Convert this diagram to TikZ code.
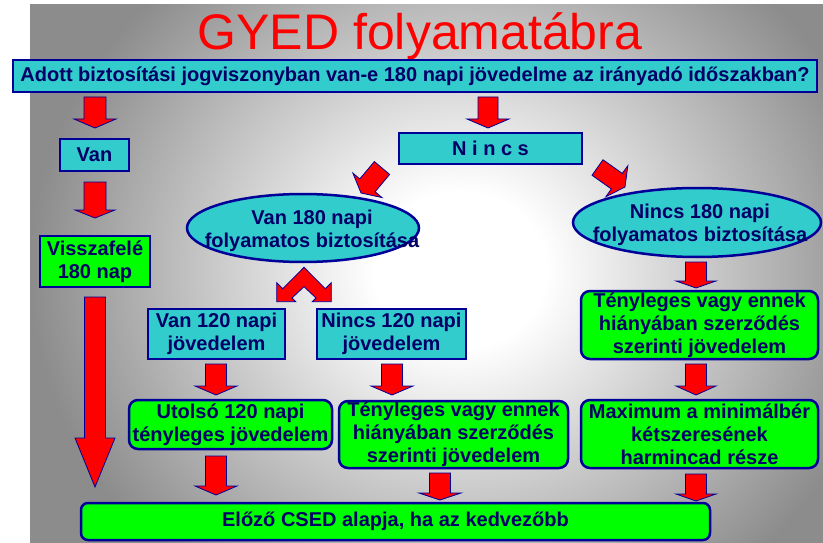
\documentclass[tikz,border=0pt]{standalone}
\usepackage{fontspec}
\setmainfont{Liberation Sans}
\usetikzlibrary{calc,shapes.geometric}
\definecolor{cy}{HTML}{33CCCC}
\definecolor{grn}{HTML}{00FF00}
\definecolor{nv}{HTML}{000099}
\definecolor{tx}{HTML}{000066}
\definecolor{bgdark}{HTML}{8C8C8C}
\pgfdeclareradialshading{bgrad}{\pgfpoint{0bp}{0bp}}{color(0bp)=(white); color(5bp)=(white); color(25bp)=(bgdark); color(50bp)=(bgdark)}
% #1 start, #2 tip, #3 half shaft, #4 half head, #5 head length
\newcommand{\blockarr}[5]{%
  \coordinate (#1-b) at ($(#2)!#5!(#1)$);
  \filldraw[arr] ($(#1)!#3!90:(#2)$) -- ($(#1-b)!#3!90:(#2)$) -- ($(#1-b)!#4!90:(#2)$) -- (#2)
     -- ($(#1-b)!#4!-90:(#2)$) -- ($(#1-b)!#3!-90:(#2)$) -- ($(#1)!#3!-90:(#2)$) -- cycle;}
\begin{document}
\begin{tikzpicture}[x=1pt,y=-1pt,
  txt/.style={font=\fontsize{20}{23}\selectfont\bfseries, text=tx, align=center, inner sep=0pt},
  cbox/.style={txt, rectangle, fill=cy, draw=nv, line width=2.5pt},
  gbox/.style={txt, rectangle, fill=grn, draw=nv, line width=2.5pt},
  rbox/.style={gbox, rounded corners=9pt},
  ell/.style={ellipse, fill=cy, draw=nv, line width=2.5pt, inner sep=0pt},
  arr/.style={fill=red, draw=nv, line width=0.8pt, line join=miter}]
\useasboundingbox (0,0) rectangle (823,543);
\fill[white] (0,0) rectangle (823,543);
\begin{scope}
  \clip (5,5) rectangle (823,543);
  \shade[shading=bgrad] (30,-120) rectangle (890,660);
\end{scope}

% title
\node[font=\fontsize{50}{50}\selectfont, text=red, anchor=base, inner sep=0pt] (title) at (420,50) {GYED folyamatábra};

% boxes
\node[cbox, minimum width=804pt, minimum height=32pt] (q) at (415,76) {Adott biztosítási jogviszonyban van-e 180 napi jövedelme az irányadó időszakban?};
\node[cbox, minimum width=69pt, minimum height=32pt] (van) at (94.5,155) {Van};
\node[cbox, minimum width=183pt, minimum height=31pt] (nincs) at (490.5,148.5) {N i n c s};
\node[gbox, minimum width=110pt, minimum height=51pt] (vissza) at (95,261.5) {Visszafelé\\180 nap};
\node[ell, minimum width=232pt, minimum height=68pt] (e1) at (303,228) {};
\node[txt] (e1t) at (312,230.5) {Van 180 napi\\folyamatos biztosítása};
\node[ell, minimum width=248pt, minimum height=69pt] (e2) at (697,222.5) {};
\node[txt] (e2t) at (700,225) {Nincs 180 napi\\folyamatos biztosítása};
\node[cbox, minimum width=137pt, minimum height=50pt] (v120) at (216.5,334) {Van 120 napi\\jövedelem};
\node[cbox, minimum width=149pt, minimum height=50pt] (n120) at (391.5,334) {Nincs 120 napi\\jövedelem};
\node[rbox, minimum width=237pt, minimum height=68pt] (gr) at (699.5,325) {Tényleges vagy ennek\\hiányában szerződés\\szerinti jövedelem};
\node[rbox, minimum width=203pt, minimum height=49pt] (g1) at (230.5,424.5) {Utolsó 120 napi\\tényleges jövedelem};
\node[rbox, minimum width=229pt, minimum height=67pt] (g2) at (453.5,434.5) {Tényleges vagy ennek\\hiányában szerződés\\szerinti jövedelem};
\node[rbox, minimum width=237pt, minimum height=68pt] (g3) at (699.5,434) {Maximum a minimálbér\\kétszeresének\\harmincad része};
\node[rbox, rounded corners=7pt, minimum width=629pt, minimum height=37pt] (bot) at (395.5,521.5) {Előző CSED alapja, ha az kedvezőbb};

% arrows
\coordinate (a1s) at (95,97);   \coordinate (a1t) at (95,128);
\coordinate (a2s) at (488,97);  \coordinate (a2t) at (488,128);
\coordinate (a3s) at (95,182);  \coordinate (a3t) at (95,218);
\coordinate (a4s) at (95,297);  \coordinate (a4t) at (95,487);
\coordinate (a5s) at (382,168); \coordinate (a5t) at (361,193);
\coordinate (a6s) at (597.5,167.5); \coordinate (a6t) at (625,187);
\coordinate (a7s) at (696,262); \coordinate (a7t) at (696,288);
\coordinate (a8s) at (696,364); \coordinate (a8t) at (696,395);
\coordinate (a9s) at (696,474); \coordinate (a9t) at (696,501);
\coordinate (a10s) at (216,364); \coordinate (a10t) at (216,395);
\coordinate (a11s) at (392,364); \coordinate (a11t) at (392,395);
\coordinate (a12s) at (216,456); \coordinate (a12t) at (216,495);
\coordinate (a13s) at (440,473); \coordinate (a13t) at (440,500);
\blockarr{a1s}{a1t}{11pt}{21pt}{9pt}
\blockarr{a2s}{a2t}{10pt}{21pt}{9pt}
\blockarr{a3s}{a3t}{11pt}{20pt}{8pt}
\blockarr{a4s}{a4t}{10.5pt}{20pt}{49pt}
\blockarr{a5s}{a5t}{10pt}{19pt}{10pt}
\blockarr{a6s}{a6t}{9.5pt}{19pt}{10pt}
\blockarr{a7s}{a7t}{10.5pt}{20pt}{7pt}
\blockarr{a8s}{a8t}{10.5pt}{20pt}{9pt}
\blockarr{a9s}{a9t}{10.5pt}{20pt}{7pt}
\blockarr{a10s}{a10t}{10.5pt}{21pt}{9pt}
\blockarr{a11s}{a11t}{10.5pt}{21pt}{9pt}
\blockarr{a12s}{a12t}{10.5pt}{21pt}{9pt}
\blockarr{a13s}{a13t}{10.5pt}{21pt}{7pt}

% double (roof) arrow from e1 to v120 / n120
\filldraw[arr] (304,267.3) -- (282.7,288.7) -- (276.7,282.7) -- (276.7,301.7) -- (295.7,301.7)
  -- (292,298) -- (304,286.7) -- (316,298) -- (312.3,301.7) -- (331.3,301.7)
  -- (331.3,282.7) -- (325.3,288.7) -- cycle;
\end{tikzpicture}
\end{document}
